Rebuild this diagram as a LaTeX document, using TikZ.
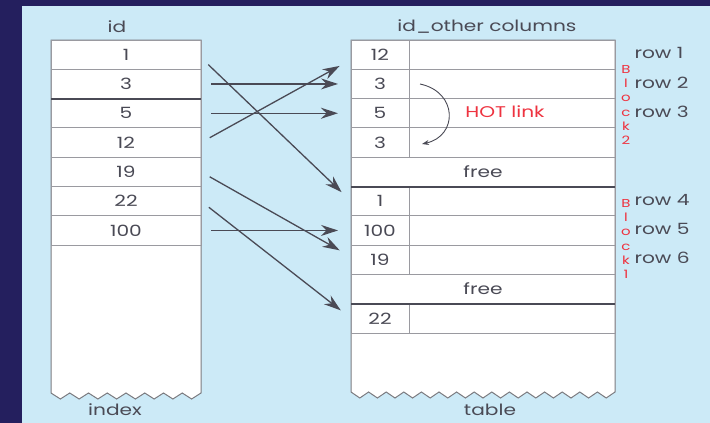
\documentclass[tikz,border=0pt]{standalone}
\usepackage{fontspec}
\setmainfont{Poppins}[FakeStretch=1.3]
\usetikzlibrary{arrows.meta}
\definecolor{navy}{HTML}{241F5E}
\definecolor{sky}{HTML}{CCEAF7}
\definecolor{ink}{HTML}{4A4A55}
\definecolor{grid}{HTML}{9A9AA0}
\definecolor{hot}{HTML}{EE3340}
\tikzset{
  cell/.style={draw=grid,line width=0.9pt,minimum height=29.3pt,inner sep=0pt,outer sep=0pt,text=ink,font=\fontsize{15.5}{15.5}\selectfont},
  idxcell/.style={cell,minimum width=150pt},
  idcell/.style={cell,minimum width=58pt},
  restcell/.style={cell,minimum width=206pt},
  freecell/.style={cell,minimum width=264pt},
  thicksep/.style={draw=ink,line width=2pt},
  ptr/.style={-{Stealth[length=17pt,width=11pt]},draw=ink,line width=1.3pt,shorten <=10pt,shorten >=13pt},
  lbl/.style={text=ink,font=\fontsize{15.5}{15.5}\selectfont},
  blk/.style={text=hot,align=center,font=\fontsize{11.5}{14.3}\selectfont}
}
\begin{document}
\begin{tikzpicture}[x=1pt,y=-1pt]
\fill[navy] (0,0) rectangle (710,423);
\fill[sky] (22,6) rectangle (710,423);

% index column with torn bottom
\filldraw[fill=white,draw=grid!80!black,line width=1pt] (51,40) -- (51,393)
  \foreach \k in {1,...,8} { -- ++(9.375,6) -- ++(9.375,-6) } -- (201,40) -- cycle;
\foreach \v [count=\k] in {1,3,5,12,19,22,100}
  \node[idxcell] (i\k) at (126,{25.35+29.3*\k}) {\v};
\draw[thicksep] (i2.south west) -- (i2.south east);
\node[lbl] (idhead) at (117,27) {id};
\node[lbl] (idxname) at (115,410) {index};

% table with torn bottom
\filldraw[fill=white,draw=grid!80!black,line width=1pt] (351,40) -- (351,392)
  \foreach \k in {1,...,15} { -- ++(8.8,6) -- ++(8.8,-6) } -- (615,40) -- cycle;
\foreach \v [count=\k] in {12,3,5,3}
  \node[idcell] (t\k) at (380,{25.35+29.3*\k}) {\v};
\node[freecell] (freeA) at (483,{25.35+29.3*5}) {free};
\foreach \v [count=\k from 5] in {1,100,19}
  \node[idcell] (t\k) at (380,{25.35+29.3*(\k+1)}) {\v};
\node[freecell] (freeB) at (483,{25.35+29.3*9}) {free};
\node[idcell] (t8) at (380,{25.35+29.3*10}) {22};
\foreach \k in {1,...,8}
  \node[restcell,anchor=west] (o\k) at (t\k.east) {};
\draw[thicksep] (freeA.south west) -- (freeA.south east);
\draw[thicksep] (freeB.south west) -- (freeB.south east);
\node[lbl] (colhead) at (487,27) {id\_other columns};
\node[lbl] (tblname) at (490,410) {table};

\foreach \r/\y in {1/53,2/83,3/112,4/200,5/229,6/258}
  \node[lbl,anchor=west] (row\r) at (631,\y) {row \r};
\node[blk] (blk2) at (626,105) {B\\l\\o\\c\\k\\2};
\node[blk] (blk1) at (626,239) {B\\l\\o\\c\\k\\1};

% hot chain inside block 2
\node[text=hot,font=\fontsize{15.5}{15.5}\selectfont] (hot) at (505,112) {HOT link};
\coordinate (hotA) at (420,84);
\coordinate (hotB) at (422,144);
\draw[-{Stealth[length=7pt,width=5pt]},ink,line width=0.9pt] (hotA) .. controls (458,92) and (458,136) .. (hotB);

\draw[ptr] ([yshift=-3pt]i1.east) -- (t5.west);
\draw[ptr] (i2.east) -- (t2.west);
\draw[ptr] (i3.east) -- (t3.west);
\draw[ptr] (i4.east) -- ([yshift=-5pt]t1.west);
\draw[ptr] (i5.east) -- ([yshift=3pt]t7.west);
\draw[ptr] (i6.east) -- (t8.west);
\draw[ptr] (i7.east) -- (t6.west);
\end{tikzpicture}
\end{document}
